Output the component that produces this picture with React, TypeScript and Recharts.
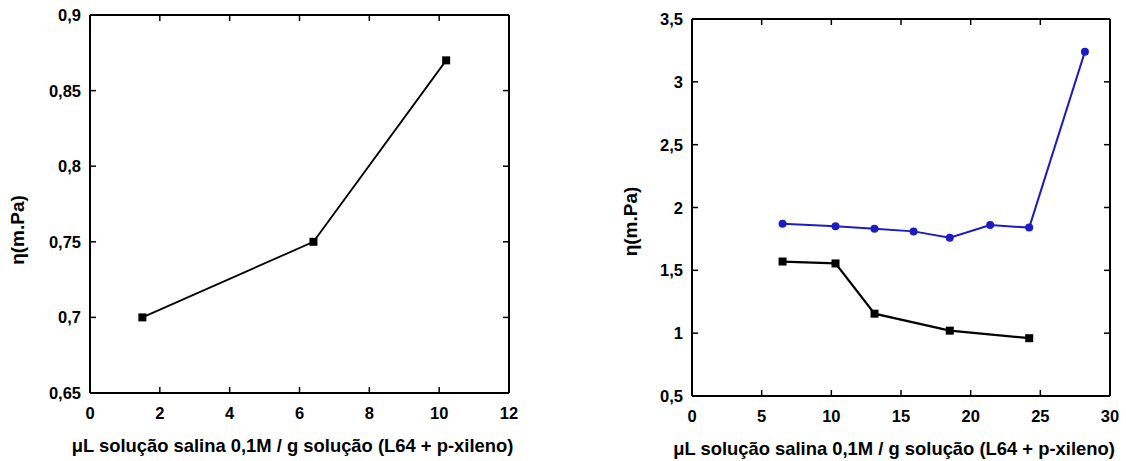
import React from 'react';
import { LineChart, Line, XAxis, YAxis } from 'recharts';

// Left chart data
const leftX = [1.5, 6.4, 10.2];
const leftY = [0.7, 0.75, 0.87];
const leftXTicks = [0, 2, 4, 6, 8, 10, 12];
const leftYTicks = [0.65, 0.7, 0.75, 0.8, 0.85, 0.9];

// Right chart data
const blueX = [6.5, 10.3, 13.1, 15.9, 18.5, 21.4, 24.2, 28.2];
const blueY = [1.87, 1.85, 1.83, 1.81, 1.76, 1.86, 1.84, 3.24];
const blackX = [6.5, 10.3, 13.1, 18.5, 24.2];
const blackY = [1.57, 1.555, 1.155, 1.02, 0.96];
const rightXTicks = [0, 5, 10, 15, 20, 25, 30];
const rightYTicks = [0.5, 1, 1.5, 2, 2.5, 3, 3.5];

const xTitle = 'μL solução salina 0,1M / g solução (L64 + p-xileno)';
const yTitle = 'η(m.Pa)';

const leftData = leftX.map((x, i) => ({ x, y: leftY[i] }));
const blueData = blueX.map((x, i) => ({ x, y: blueY[i] }));
const blackData = blackX.map((x, i) => ({ x, y: blackY[i] }));

const FONT = '"Liberation Sans", Arial, sans-serif';
const BLUE = '#1c1cc4';
const fmt = (v: number) => String(v).replace('.', ',');

const axisLine = { stroke: '#000', strokeWidth: 2 };
const TICK = 6;
const TICK_FS = 16.5;

const TickBottom = (props: any) => {
  const { x, y, payload } = props;
  return (
    <g>
      <line x1={x} x2={x} y1={y - TICK} y2={y} stroke="#000" strokeWidth={1.5} />
      <text x={x} y={y + 26} textAnchor="middle" fontSize={TICK_FS} fontWeight="bold" fontFamily={FONT} fill="#000">
        {fmt(payload.value)}
      </text>
    </g>
  );
};
const TickTop = (props: any) => {
  const { x, y } = props;
  return <line x1={x} x2={x} y1={y} y2={y + TICK} stroke="#000" strokeWidth={1.5} />;
};
const TickLeft = (props: any) => {
  const { x, y, payload } = props;
  return (
    <g>
      <line x1={x} x2={x + TICK} y1={y} y2={y} stroke="#000" strokeWidth={1.5} />
      <text x={x - 9} y={y + 6} textAnchor="end" fontSize={TICK_FS} fontWeight="bold" fontFamily={FONT} fill="#000">
        {fmt(payload.value)}
      </text>
    </g>
  );
};
const TickRight = (props: any) => {
  const { x, y } = props;
  return <line x1={x - TICK} x2={x} y1={y} y2={y} stroke="#000" strokeWidth={1.5} />;
};

const XTitle = (props: any) => {
  const vb = props.viewBox || {};
  return (
    <text
      x={vb.x + vb.width / 2 - 7}
      y={vb.y + 59}
      textAnchor="middle"
      fontSize={18.4}
      fontWeight="bold"
      fontFamily={FONT}
      fill="#000"
    >
      {xTitle}
    </text>
  );
};

const makeYTitle = (cx: number, dy: number) => (props: any) => {
  const vb = props.viewBox || {};
  const px = vb.x + cx;
  const py = vb.y + vb.height / 2 + dy;
  return (
    <text
      transform={`translate(${px}, ${py}) rotate(-90)`}
      textAnchor="middle"
      dominantBaseline="central"
      fontSize={19}
      fontWeight="bold"
      fontFamily={FONT}
      fill="#000"
    >
      {yTitle}
    </text>
  );
};

const SquareDot = (props: any) => {
  const { cx, cy, index } = props;
  if (cx == null || cy == null) return <g key={index} />;
  return <rect key={index} x={cx - 4} y={cy - 4} width={8} height={8} fill="#000" />;
};

const CircleDot = (props: any) => {
  const { cx, cy, index } = props;
  if (cx == null || cy == null) return <g key={index} />;
  return <circle key={index} cx={cx} cy={cy} r={4} fill={BLUE} />;
};

const leftYTitle = makeYTitle(17, 26);
const rightYTitle = makeYTitle(70, 14);

const axes = (
  xDomain: [number, number],
  xTicks: number[],
  yDomain: [number, number],
  yTicks: number[],
  bottomH: number,
  leftW: number,
  yTitleEl: any
) => [
  <XAxis
    key="xb"
    xAxisId="b"
    type="number"
    dataKey="x"
    domain={xDomain}
    ticks={xTicks}
    interval={0}
    orientation="bottom"
    height={bottomH}
    tickSize={0}
    tickMargin={0}
    axisLine={axisLine}
    tickLine={false}
    tick={<TickBottom />}
    label={XTitle}
  />,
  <XAxis
    key="xt"
    xAxisId="t"
    type="number"
    dataKey="x"
    domain={xDomain}
    ticks={xTicks}
    interval={0}
    orientation="top"
    height={1}
    tickSize={0}
    tickMargin={0}
    axisLine={axisLine}
    tickLine={false}
    tick={<TickTop />}
  />,
  <YAxis
    key="yl"
    yAxisId="l"
    type="number"
    domain={yDomain}
    ticks={yTicks}
    interval={0}
    width={leftW}
    tickSize={0}
    tickMargin={0}
    axisLine={axisLine}
    tickLine={false}
    tick={<TickLeft />}
    label={yTitleEl}
  />,
  <YAxis
    key="yr"
    yAxisId="r"
    orientation="right"
    type="number"
    domain={yDomain}
    ticks={yTicks}
    interval={0}
    width={1}
    tickSize={0}
    tickMargin={0}
    axisLine={axisLine}
    tickLine={false}
    tick={<TickRight />}
  />,
];

export default function App() {
  return (
    <div style={{ position: 'absolute', left: 0, top: 0, width: 1126, height: 461, background: '#fff' }}>
      <div style={{ position: 'absolute', left: 0, top: 0 }}>
        <LineChart width={560} height={461} margin={{ top: 14, right: 50, bottom: 0, left: 0 }}>
          {axes([0, 12], leftXTicks, [0.65, 0.9], leftYTicks, 68, 90, leftYTitle)}
          <Line
            xAxisId="t"
            yAxisId="r"
            data={leftData}
            dataKey="y"
            stroke="none"
            dot={false}
            activeDot={false}
            isAnimationActive={false}
            legendType="none"
          />
          <Line
            xAxisId="b"
            yAxisId="l"
            data={leftData}
            dataKey="y"
            stroke="#000"
            strokeWidth={1.8}
            dot={SquareDot}
            activeDot={false}
            isAnimationActive={false}
          />
        </LineChart>
      </div>
      <div style={{ position: 'absolute', left: 560, top: 0 }}>
        <LineChart width={566} height={461} margin={{ top: 18, right: 15, bottom: 0, left: 0 }}>
          {axes([0, 30], rightXTicks, [0.5, 3.5], rightYTicks, 65, 132, rightYTitle)}
          <Line
            xAxisId="t"
            yAxisId="r"
            data={blackData}
            dataKey="y"
            stroke="none"
            dot={false}
            activeDot={false}
            isAnimationActive={false}
            legendType="none"
          />
          <Line
            xAxisId="b"
            yAxisId="l"
            data={blueData}
            dataKey="y"
            stroke={BLUE}
            strokeWidth={2}
            dot={CircleDot}
            activeDot={false}
            isAnimationActive={false}
          />
          <Line
            xAxisId="b"
            yAxisId="l"
            data={blackData}
            dataKey="y"
            stroke="#000"
            strokeWidth={2.2}
            dot={SquareDot}
            activeDot={false}
            isAnimationActive={false}
          />
        </LineChart>
      </div>
    </div>
  );
}
